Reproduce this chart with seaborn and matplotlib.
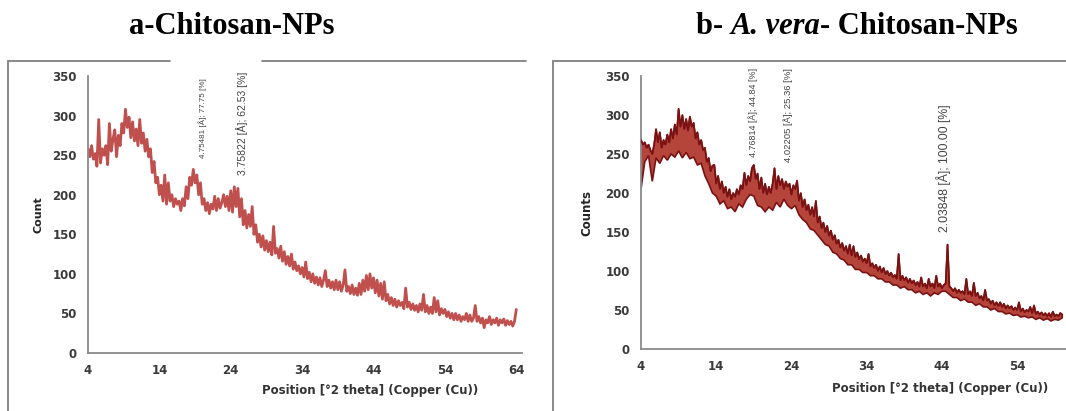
import numpy as np
import matplotlib
matplotlib.use("Agg")
import matplotlib.pyplot as plt
import seaborn as sns
import pandas as pd
from matplotlib.lines import Line2D
from matplotlib.patches import Rectangle

# XRD scan, panel a (Chitosan-NPs), 2theta 4..64 step 0.25
theta_a = np.arange(4, 64.01, 0.25)
counts_a = [
    258, 248, 262, 245, 252, 236, 295, 240, 258, 250, 262, 238, 290, 255, 270, 282, 248, 275, 262, 290,
    278, 308, 285, 298, 272, 292, 268, 283, 262, 295, 265, 278, 255, 270, 248, 258, 228, 242, 215, 222,
    200, 212, 192, 225, 188, 215, 192, 200, 185, 195, 188, 192, 180, 195, 186, 210, 195, 222, 212, 232,
    215, 225, 200, 215, 188, 195, 180, 190, 176, 188, 182, 198, 180, 195, 183, 190, 200, 185, 198, 180,
    205, 178, 210, 185, 208, 172, 195, 162, 180, 158, 175, 160, 185, 150, 162, 140, 150, 134, 148, 130,
    142, 128, 140, 124, 160, 126, 132, 120, 135, 116, 128, 112, 122, 110, 125, 106, 115, 104, 110, 100,
    108, 96, 115, 94, 102, 90, 100, 88, 96, 86, 95, 84, 92, 104, 84, 92, 82, 90, 80, 92,
    80, 90, 78, 86, 105, 78, 84, 75, 86, 74, 82, 73, 88, 74, 92, 78, 98, 80, 100, 82,
    95, 76, 92, 72, 88, 68, 90, 66, 74, 62, 70, 60, 68, 58, 66, 60, 64, 56, 82, 58,
    64, 55, 62, 54, 60, 52, 62, 54, 74, 52, 60, 50, 58, 50, 70, 52, 66, 48, 56, 50,
    55, 46, 52, 44, 50, 42, 50, 42, 48, 40, 46, 42, 50, 40, 48, 40, 44, 60, 40, 46,
    38, 44, 32, 42, 38, 46, 36, 42, 38, 44, 35, 42, 38, 43, 35, 41, 36, 40, 34, 40,
    55,
]

# panel b (A. vera - Chitosan-NPs): upper envelope step 0.25, lower envelope step 0.5
theta_b = np.arange(4, 60.01, 0.25)
counts_b_top = [
    268, 262, 265, 258, 262, 255, 250, 262, 282, 265, 278, 258, 268, 262, 275, 265, 282, 270, 288, 275,
    308, 285, 300, 282, 295, 280, 298, 285, 290, 270, 278, 262, 268, 255, 258, 240, 245, 228, 235, 236,
    212, 222, 205, 215, 200, 208, 195, 205, 192, 200, 195, 205, 198, 210, 205, 226, 210, 222, 215, 232,
    236, 218, 225, 205, 220, 200, 212, 198, 208, 200, 212, 232, 205, 222, 210, 218, 205, 215, 208, 212,
    198, 210, 205, 216, 190, 200, 182, 192, 178, 185, 172, 182, 170, 190, 162, 170, 155, 162, 150, 158,
    145, 152, 140, 146, 135, 140, 130, 136, 126, 132, 122, 134, 120, 132, 118, 124, 115, 120, 112, 116,
    110, 122, 106, 110, 104, 108, 100, 106, 98, 104, 96, 100, 94, 98, 92, 95, 90, 122, 88, 94,
    88, 92, 85, 90, 84, 88, 82, 86, 80, 92, 80, 84, 78, 90, 80, 84, 78, 94, 80, 84,
    78, 82, 84, 134, 80, 78, 74, 78, 72, 76, 72, 74, 70, 90, 70, 74, 68, 85, 68, 72,
    65, 68, 62, 76, 62, 64, 58, 62, 56, 60, 55, 60, 54, 58, 52, 56, 52, 55, 50, 53,
    50, 60, 48, 52, 47, 50, 48, 54, 46, 56, 45, 48, 44, 47, 43, 46, 42, 46, 41, 48,
    42, 44, 42, 46, 44,
]
theta_b_low = np.arange(4, 60.01, 0.5)
counts_b_low = [
    205, 240, 248, 215, 245, 238, 248, 242, 250, 246,
    254, 245, 252, 244, 246, 236, 238, 222, 212, 200,
    196, 186, 190, 180, 182, 176, 186, 182, 192, 198,
    196, 184, 182, 176, 182, 178, 188, 182, 192, 184,
    180, 184, 172, 166, 162, 154, 152, 146, 140, 134,
    132, 124, 122, 116, 114, 108, 108, 102, 102, 98,
    98, 94, 94, 90, 90, 86, 86, 82, 82, 78,
    80, 76, 76, 72, 74, 70, 72, 68, 72, 70,
    74, 74, 70, 66, 66, 62, 64, 60, 60, 56,
    58, 54, 54, 50, 52, 48, 48, 45, 46, 43,
    44, 41, 42, 40, 41, 38, 40, 37, 39, 36,
    38, 37, 40,
]

x_ticks_a = [4, 14, 24, 34, 44, 54, 64]
x_ticks_b = [4, 14, 24, 34, 44, 54]
y_ticks = [0, 50, 100, 150, 200, 250, 300, 350]

peaks_a = [(20.0, 347, "4.75481 [Å]; 77.75 [%]", 5.8),
           (25.6, 355, "3.75822 [Å]; 62.53 [%]", 7.5)]
peaks_b = [(18.9, 360, "4.76814 [Å]; 44.84 [%]", 6.4),
           (23.5, 360, "4.02205 [Å]; 25.36 [%]", 6.8),
           (44.2, 313, "2.03848 [Å]; 100.00 [%]", 8.8)]

sns.set_style("white")
plt.rcParams['font.family'] = ['DejaVu Sans']

W, H = 1066, 411
fig = plt.figure(figsize=(W / 100, H / 100), dpi=100)


def px_box(left, top, right, bottom):
    return [left / W, 1 - bottom / H, (right - left) / W, (bottom - top) / H]


ax_a = fig.add_axes(px_box(88, 76, 522, 353))
ax_b = fig.add_axes(px_box(641, 76, 1066, 349))

df_a = pd.DataFrame({'theta': theta_a, 'counts': counts_a})
sns.lineplot(data=df_a, x='theta', y='counts', ax=ax_a, color='#C0504D',
             linewidth=2.0, estimator=None)

df_b = pd.DataFrame({'theta': theta_b, 'counts': counts_b_top})
poly_x = np.r_[theta_b, theta_b_low[::-1]]
poly_y = np.r_[counts_b_top, counts_b_low[::-1]]
ax_b.fill(poly_x, poly_y, facecolor='#B5443B', edgecolor='#7A1212', linewidth=1.2, zorder=2)
sns.lineplot(data=df_b, x='theta', y='counts', ax=ax_b, color='#7A1212',
             linewidth=1.2, estimator=None, zorder=3)

for ax, ticks, xmax in [(ax_a, x_ticks_a, 64.8), (ax_b, x_ticks_b, 60.5)]:
    ax.set_xlim(4, xmax)
    ax.set_ylim(0, 350)
    ax.set_xticks(ticks)
    ax.set_yticks(y_ticks)
    ax.tick_params(length=0, labelsize=8.5, labelcolor='#3a3a3a', pad=8)
    for lab in ax.get_xticklabels() + ax.get_yticklabels():
        lab.set_fontweight('bold')
    for s in ['top', 'right']:
        ax.spines[s].set_visible(False)
    for s in ['left', 'bottom']:
        ax.spines[s].set_color('#8a8a8a')
        ax.spines[s].set_linewidth(1.3)
    ax.set_xlabel('')
    ax.set_ylabel('')
    ax.grid(False)

fig.text(38 / W, 1 - 215 / H, 'Count', rotation=90, ha='center', va='center',
         fontsize=8, fontweight='bold', color='#222222')
fig.text(587 / W, 1 - 213 / H, 'Counts', rotation=90, ha='center', va='center',
         fontsize=8.5, fontweight='bold', color='#222222')
fig.text(370 / W, 1 - 390 / H, 'Position [°2 theta] (Copper (Cu))', ha='center', va='center',
         fontsize=8.5, fontweight='bold', color='#333333')
fig.text(940 / W, 1 - 388 / H, 'Position [°2 theta] (Copper (Cu))', ha='center', va='center',
         fontsize=8.5, fontweight='bold', color='#333333')

for ax, peaks in [(ax_a, peaks_a), (ax_b, peaks_b)]:
    for x, y, txt, fs in peaks:
        ax.text(x, y, txt, rotation=90, ha='center', va='top', fontsize=fs,
                color='#444444', family=['Liberation Sans Narrow', 'Liberation Sans'],
                clip_on=False, zorder=5,
                bbox=dict(facecolor='white', edgecolor='none', pad=1.0))

# cut-off of panel a on the right
fig.patches.append(Rectangle((524 / W, 0), 26 / W, 1 - 63 / H, transform=fig.transFigure,
                             facecolor='white', edgecolor='none', zorder=10))

# panel frames
fc = '#808080'
fig.add_artist(Line2D([8 / W, 8 / W], [0, 1 - 61 / H], color=fc, lw=1.3))
fig.add_artist(Line2D([8 / W, 170 / W], [1 - 61 / H, 1 - 61 / H], color=fc, lw=1.3))
fig.add_artist(Line2D([262 / W, 526 / W], [1 - 61 / H, 1 - 61 / H], color=fc, lw=1.3))
fig.add_artist(Line2D([553 / W, 553 / W], [0, 1 - 61 / H], color=fc, lw=1.3))
fig.add_artist(Line2D([553 / W, 1], [1 - 61 / H, 1 - 61 / H], color=fc, lw=1.3))

# titles
serif = ['Liberation Serif', 'DejaVu Serif']
fig.text(232 / W, 1 - 27 / H, 'a-Chitosan-NPs', ha='center', va='center',
         fontsize=22, fontweight='bold', family=serif, color='black')

renderer = fig.canvas.get_renderer()
parts = [('b- ', 'normal'), ('A. vera', 'italic'), ('- Chitosan-NPs', 'normal')]
widths = []
texts = []
for s, st in parts:
    t = fig.text(0, 1 - 27 / H, s, ha='left', va='center', fontsize=22,
                 fontweight='bold', fontstyle=st, family=serif, color='black')
    texts.append(t)
    widths.append(t.get_window_extent(renderer).width)
x0 = 857 - sum(widths) / 2
for t, w in zip(texts, widths):
    t.set_x(x0 / W)
    x0 += w

fig.savefig('out.png', dpi=100)
